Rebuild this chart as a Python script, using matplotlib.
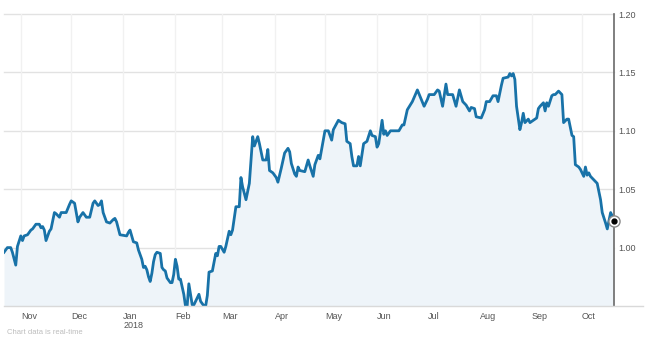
import numpy as np
import pandas as pd
import matplotlib
matplotlib.use("Agg")
import matplotlib.pyplot as plt
import matplotlib.dates as mdates
import matplotlib.transforms as mtransforms
from matplotlib.lines import Line2D

plt.rcParams['font.family'] = ['Liberation Sans', 'DejaVu Sans']

# price series
dates = [
    "2017-10-22", "2017-10-24", "2017-10-26", "2017-10-27", "2017-10-29", "2017-10-30",
    "2017-11-01", "2017-11-02", "2017-11-03", "2017-11-05", "2017-11-07", "2017-11-08",
    "2017-11-10", "2017-11-12", "2017-11-13", "2017-11-14", "2017-11-15", "2017-11-16",
    "2017-11-18", "2017-11-19", "2017-11-21", "2017-11-22", "2017-11-24", "2017-11-25",
    "2017-11-28", "2017-11-30", "2017-12-01", "2017-12-03", "2017-12-05", "2017-12-06",
    "2017-12-08", "2017-12-10", "2017-12-12", "2017-12-14", "2017-12-15", "2017-12-17",
    "2017-12-18", "2017-12-19", "2017-12-20", "2017-12-22", "2017-12-24", "2017-12-26",
    "2017-12-27", "2017-12-28", "2017-12-30", "2018-01-03", "2018-01-04", "2018-01-05",
    "2018-01-06", "2018-01-07", "2018-01-09", "2018-01-10", "2018-01-12", "2018-01-13",
    "2018-01-14", "2018-01-15", "2018-01-16", "2018-01-17", "2018-01-18", "2018-01-19",
    "2018-01-20", "2018-01-21", "2018-01-23", "2018-01-24", "2018-01-25", "2018-01-26",
    "2018-01-27", "2018-01-29", "2018-01-30", "2018-01-31", "2018-02-01", "2018-02-02",
    "2018-02-03", "2018-02-04", "2018-02-06", "2018-02-07", "2018-02-08", "2018-02-09",
    "2018-02-11", "2018-02-12", "2018-02-15", "2018-02-16", "2018-02-18", "2018-02-19",
    "2018-02-20", "2018-02-21", "2018-02-23", "2018-02-25", "2018-02-26", "2018-02-27",
    "2018-02-28", "2018-03-02", "2018-03-03", "2018-03-05", "2018-03-06", "2018-03-07",
    "2018-03-09", "2018-03-11", "2018-03-12", "2018-03-13", "2018-03-15", "2018-03-17",
    "2018-03-18", "2018-03-19", "2018-03-20", "2018-03-22", "2018-03-23", "2018-03-25",
    "2018-03-27", "2018-03-28", "2018-03-29", "2018-03-31", "2018-04-02", "2018-04-03",
    "2018-04-05", "2018-04-07", "2018-04-09", "2018-04-10", "2018-04-11", "2018-04-13",
    "2018-04-14", "2018-04-15", "2018-04-16", "2018-04-19", "2018-04-21", "2018-04-22",
    "2018-04-24", "2018-04-25", "2018-04-27", "2018-04-28", "2018-05-01", "2018-05-03",
    "2018-05-05", "2018-05-06", "2018-05-09", "2018-05-11", "2018-05-13", "2018-05-14",
    "2018-05-16", "2018-05-17", "2018-05-18", "2018-05-20", "2018-05-21", "2018-05-22",
    "2018-05-24", "2018-05-26", "2018-05-28", "2018-05-29", "2018-05-31", "2018-06-01",
    "2018-06-02", "2018-06-04", "2018-06-05", "2018-06-06", "2018-06-07", "2018-06-09",
    "2018-06-14", "2018-06-16", "2018-06-17", "2018-06-19", "2018-06-22", "2018-06-25",
    "2018-06-27", "2018-06-29", "2018-07-01", "2018-07-02", "2018-07-05", "2018-07-07",
    "2018-07-08", "2018-07-10", "2018-07-12", "2018-07-13", "2018-07-16", "2018-07-18",
    "2018-07-20", "2018-07-22", "2018-07-24", "2018-07-26", "2018-07-27", "2018-07-29",
    "2018-07-30", "2018-08-02", "2018-08-04", "2018-08-05", "2018-08-07", "2018-08-09",
    "2018-08-11", "2018-08-12", "2018-08-14", "2018-08-15", "2018-08-18", "2018-08-19",
    "2018-08-20", "2018-08-21", "2018-08-22", "2018-08-23", "2018-08-25", "2018-08-26",
    "2018-08-27", "2018-08-28", "2018-08-30", "2018-08-31", "2018-09-02", "2018-09-04",
    "2018-09-05", "2018-09-06", "2018-09-08", "2018-09-09", "2018-09-10", "2018-09-11",
    "2018-09-13", "2018-09-14", "2018-09-15", "2018-09-17", "2018-09-19", "2018-09-20",
    "2018-09-22", "2018-09-23", "2018-09-25", "2018-09-26", "2018-09-27", "2018-09-29",
    "2018-09-30", "2018-10-02", "2018-10-03", "2018-10-04", "2018-10-05", "2018-10-06",
    "2018-10-08", "2018-10-10", "2018-10-12", "2018-10-13", "2018-10-15", "2018-10-16",
    "2018-10-18", "2018-10-19", "2018-10-20",
]
values = [
    0.996, 1.000, 1.000, 0.996, 0.985, 1.001,
    1.010, 1.006, 1.010, 1.011, 1.015, 1.016,
    1.020, 1.020, 1.017, 1.018, 1.015, 1.006,
    1.014, 1.016, 1.030, 1.029, 1.026, 1.030,
    1.030, 1.037, 1.040, 1.038, 1.022, 1.026,
    1.030, 1.026, 1.026, 1.038, 1.040, 1.036,
    1.037, 1.040, 1.030, 1.022, 1.021, 1.024,
    1.025, 1.022, 1.011, 1.010, 1.013, 1.015,
    1.010, 1.005, 1.004, 0.998, 0.990, 0.983,
    0.984, 0.981, 0.975, 0.971, 0.978, 0.988,
    0.994, 0.996, 0.995, 0.983, 0.981, 0.980,
    0.974, 0.970, 0.970, 0.977, 0.990, 0.984,
    0.973, 0.973, 0.960, 0.950, 0.950, 0.969,
    0.951, 0.951, 0.960, 0.954, 0.950, 0.950,
    0.959, 0.979, 0.980, 0.995, 0.993, 1.001,
    1.001, 0.996, 1.001, 1.014, 1.011, 1.015,
    1.035, 1.035, 1.060, 1.052, 1.041, 1.055,
    1.075, 1.095, 1.087, 1.095, 1.089, 1.075,
    1.075, 1.084, 1.066, 1.064, 1.060, 1.056,
    1.068, 1.081, 1.085, 1.082, 1.072, 1.063,
    1.061, 1.069, 1.066, 1.065, 1.075, 1.070,
    1.061, 1.071, 1.079, 1.076, 1.100, 1.100,
    1.092, 1.101, 1.109, 1.107, 1.106, 1.091,
    1.089, 1.078, 1.070, 1.070, 1.078, 1.070,
    1.089, 1.091, 1.100, 1.096, 1.095, 1.086,
    1.089, 1.109, 1.097, 1.100, 1.096, 1.100,
    1.100, 1.105, 1.105, 1.118, 1.125, 1.135,
    1.128, 1.121, 1.127, 1.131, 1.131, 1.135,
    1.134, 1.121, 1.140, 1.131, 1.131, 1.121,
    1.135, 1.125, 1.122, 1.117, 1.120, 1.119,
    1.112, 1.111, 1.118, 1.125, 1.125, 1.130,
    1.130, 1.125, 1.139, 1.145, 1.146, 1.149,
    1.147, 1.149, 1.144, 1.121, 1.101, 1.107,
    1.115, 1.107, 1.110, 1.107, 1.109, 1.111,
    1.119, 1.121, 1.124, 1.117, 1.124, 1.121,
    1.130, 1.131, 1.131, 1.134, 1.131, 1.107,
    1.110, 1.110, 1.096, 1.095, 1.071, 1.069,
    1.067, 1.061, 1.069, 1.062, 1.064, 1.061,
    1.058, 1.055, 1.041, 1.030, 1.021, 1.016,
    1.030, 1.027, 1.0225,
]
month_starts = ["2017-11-01", "2017-12-01", "2018-01-01", "2018-02-01", "2018-03-01",
                "2018-04-01", "2018-05-01", "2018-06-01", "2018-07-01", "2018-08-01",
                "2018-09-01", "2018-10-01"]
month_labels = ["Nov", "Dec", "Jan\n2018", "Feb", "Mar", "Apr", "May", "Jun",
                "Jul", "Aug", "Sep", "Oct"]
y_ticks = [1.00, 1.05, 1.10, 1.15, 1.20]

x = pd.to_datetime(dates)
line_color = "#1872a8"

fig = plt.figure(figsize=(6.5, 3.46), dpi=100)
ax = fig.add_axes([4 / 650, 40 / 346, 610 / 650, 292 / 346])

ax.fill_between(x, values, 0.95, color="#eef4f9", lw=0)
ax.plot(x, values, color=line_color, lw=2.0, solid_joinstyle="round")

# end-point marker
ax.plot(x[-1], values[-1], "o", ms=8, mfc="white", mec="#8a8a8a", mew=1, clip_on=False, zorder=5)
ax.plot(x[-1], values[-1], "o", ms=3.5, color="black", clip_on=False, zorder=6)

ax.set_xlim(x[0], x[-1])
ax.set_ylim(0.95, 1.20)

# grid
for yv in y_ticks:
    ax.axhline(yv, color="#e2e2e2", lw=1, zorder=0, clip_on=False)
for m in pd.to_datetime(month_starts):
    ax.axvline(m, color="#f1f1f1", lw=1, zorder=0)

ax.set_xticks(pd.to_datetime(month_starts))
ax.set_xticklabels(month_labels, fontsize=6.5, color="#555555", ha="left", linespacing=1.1)
offset = mtransforms.ScaledTranslation(4 / 100, 0, fig.dpi_scale_trans)
for lab in ax.get_xticklabels():
    lab.set_transform(lab.get_transform() + offset)
ax.tick_params(axis="x", length=0, pad=4)

ax.yaxis.tick_right()
ax.set_yticks(y_ticks)
ax.set_yticklabels(["%.2f" % v for v in y_ticks], fontsize=6.5, color="#555555")
ax.tick_params(axis="y", length=0, pad=3)

for s in ["top", "left", "bottom"]:
    ax.spines[s].set_visible(False)
ax.spines["right"].set_color("#6a6a6a")
ax.spines["right"].set_linewidth(1.2)

# bottom axis line running past the right spine
fig.add_artist(Line2D([4 / 650, 643 / 650], [40 / 346, 40 / 346], color="#d9d9d9", lw=1))

fig.text(7 / 650, 1 - 333 / 346, "Chart data is real-time", fontsize=5.5, color="#bdbdbd",
         va="center", ha="left")

fig.savefig("out.png", dpi=100)
